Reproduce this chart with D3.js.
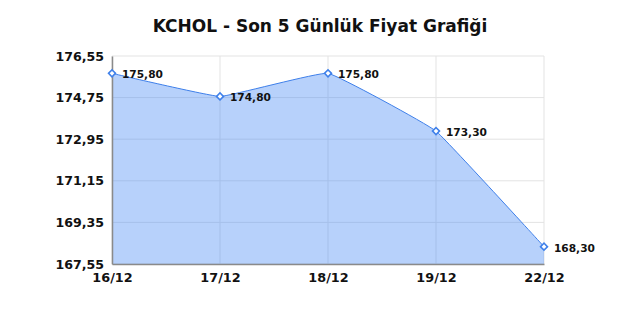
<!DOCTYPE html>
<html>
<head>
<meta charset="utf-8">
<script src="https://cdn.jsdelivr.net/npm/d3@7/dist/d3.min.js"></script>
<style>
  html, body { margin: 0; padding: 0; background: #fff; }
  svg { display: block; font-family: "DejaVu Sans", sans-serif; }
</style>
</head>
<body>
<div id="chart"></div>
<script>
// Data
const title = "KCHOL - Son 5 Günlük Fiyat Grafiği";
const dates = ["16/12", "17/12", "18/12", "19/12", "22/12"];
const prices = [175.80, 174.80, 175.80, 173.30, 168.30];
const yTicks = [167.55, 169.35, 171.15, 172.95, 174.75, 176.55];

// Layout
const width = 640, height = 320;
const margin = { top: 56, right: 96, bottom: 56, left: 112 };
const fmt = v => v.toFixed(2).replace(".", ",");

const svg = d3.select("#chart").append("svg")
  .attr("width", width)
  .attr("height", height);

const x = d3.scalePoint()
  .domain(dates)
  .range([margin.left, width - margin.right]);

const y = d3.scaleLinear()
  .domain([yTicks[0], yTicks[yTicks.length - 1]])
  .range([height - margin.bottom, margin.top]);

// Grid lines
svg.append("g")
  .selectAll("line")
  .data(yTicks)
  .enter()
  .append("line")
  .attr("x1", margin.left)
  .attr("x2", width - margin.right)
  .attr("y1", d => y(d))
  .attr("y2", d => y(d))
  .attr("stroke", "#e3e3e3")
  .attr("stroke-width", 1);

svg.append("g")
  .selectAll("line")
  .data(dates)
  .enter()
  .append("line")
  .attr("x1", d => x(d))
  .attr("x2", d => x(d))
  .attr("y1", margin.top)
  .attr("y2", height - margin.bottom)
  .attr("stroke", "#e3e3e3")
  .attr("stroke-width", 1);

const points = dates.map((d, i) => ({ date: d, value: prices[i] }));
const curve = d3.curveCardinal.tension(0.75);

// Area
svg.append("path")
  .datum(points)
  .attr("fill", "#4c8bf5")
  .attr("fill-opacity", 0.4)
  .attr("d", d3.area()
    .x(d => x(d.date))
    .y0(y(yTicks[0]))
    .y1(d => y(d.value))
    .curve(curve));

// Line
svg.append("path")
  .datum(points)
  .attr("fill", "none")
  .attr("stroke", "#3f80ea")
  .attr("stroke-width", 1)
  .attr("d", d3.line()
    .x(d => x(d.date))
    .y(d => y(d.value))
    .curve(curve));

// Axes
const yAxis = svg.append("g")
  .attr("transform", `translate(${margin.left},0)`)
  .call(d3.axisLeft(y).tickValues(yTicks).tickFormat(fmt).tickSize(0).tickPadding(8));
yAxis.select(".domain").attr("stroke", "#8a8a8a").attr("stroke-width", 1.5);
yAxis.selectAll("text")
  .attr("fill", "#111")
  .style("font-size", "12.6px")
  .style("font-weight", "bold")
  .style("font-family", "DejaVu Sans");

const xAxis = svg.append("g")
  .attr("transform", `translate(0,${height - margin.bottom})`)
  .call(d3.axisBottom(x).tickSize(0).tickPadding(9));
xAxis.select(".domain").attr("stroke", "#8a8a8a").attr("stroke-width", 1.5);
xAxis.selectAll("text")
  .attr("fill", "#111")
  .style("font-size", "12.8px")
  .style("font-weight", "bold")
  .style("font-family", "DejaVu Sans");

// Markers
svg.append("g")
  .selectAll("path")
  .data(points)
  .enter()
  .append("path")
  .attr("transform", d => `translate(${x(d.date)},${y(d.value)}) rotate(45)`)
  .attr("d", d3.symbol().type(d3.symbolSquare).size(24))
  .attr("fill", "#fff")
  .attr("stroke", "#3f80ea")
  .attr("stroke-width", 1.6);

// Value labels
svg.append("g")
  .selectAll("text")
  .data(points)
  .enter()
  .append("text")
  .attr("x", d => x(d.date) + 10)
  .attr("y", d => y(d.value) + 5)
  .attr("fill", "#111")
  .style("font-size", "10.6px")
  .style("font-weight", "bold")
  .text(d => fmt(d.value));

// Title
svg.append("text")
  .attr("x", width / 2)
  .attr("y", 32)
  .attr("text-anchor", "middle")
  .attr("fill", "#111")
  .style("font-size", "17px")
  .style("font-weight", "bold")
  .text(title);
</script>
</body>
</html>
